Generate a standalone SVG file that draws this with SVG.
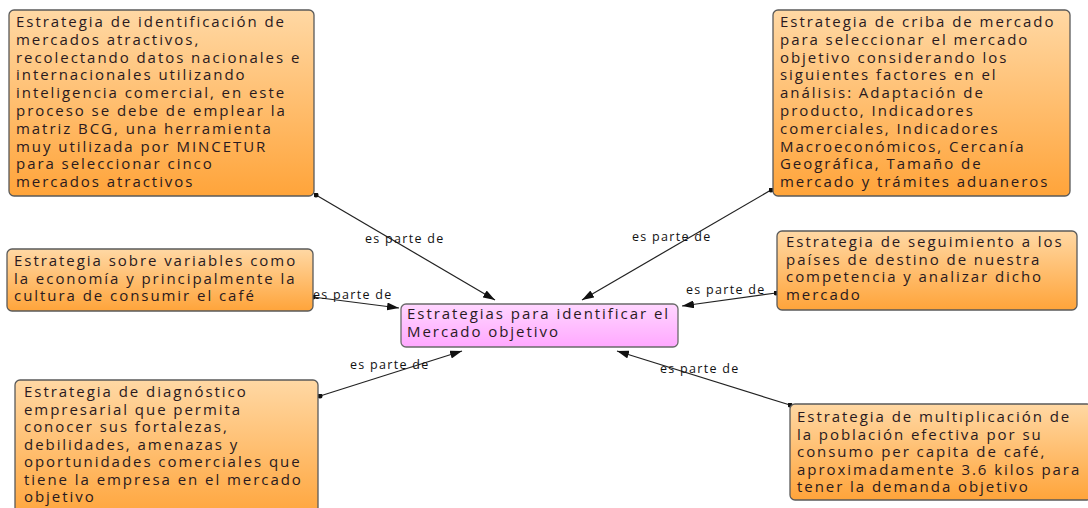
<svg xmlns="http://www.w3.org/2000/svg" width="1088" height="508" viewBox="0 0 1088 508">
  <defs>
    <linearGradient id="gOrange" x1="0" y1="0" x2="0" y2="1">
      <stop offset="0" stop-color="#ffd8a4"/>
      <stop offset="1" stop-color="#ffa43a"/>
    </linearGradient>
    <linearGradient id="gPink" x1="0" y1="0" x2="0" y2="1">
      <stop offset="0" stop-color="#ffd6ff"/>
      <stop offset="1" stop-color="#ffa8ff"/>
    </linearGradient>
    <marker id="arrow" viewBox="0 0 12 8" refX="12" refY="4" markerWidth="12" markerHeight="8" markerUnits="userSpaceOnUse" orient="auto">
      <path d="M0,0 L12,4 L0,8 Z" fill="#111"/>
    </marker>
    <marker id="dot" viewBox="0 0 6 6" refX="3" refY="3" markerWidth="5" markerHeight="5" markerUnits="userSpaceOnUse">
      <circle cx="3" cy="3" r="3" fill="#111"/>
    </marker>
  </defs>
  <style>
    .box { fill: url(#gOrange); stroke: #5a5a5a; stroke-width: 1.3; }
    .main { fill: url(#gPink); stroke: #6a6a6a; stroke-width: 1.3; }
    .t { font-family: "Open Sans", "Noto Sans", sans-serif; font-size: 15px; fill: #2a1a1e; letter-spacing: 1.95px; }
    .lbl { font-family: "Open Sans", "Noto Sans", sans-serif; font-size: 12.5px; fill: #111; letter-spacing: 1.3px; }
    .edge { stroke: #222; stroke-width: 1.2; fill: none; marker-start: url(#dot); marker-end: url(#arrow); }
  </style>

  <rect width="1088" height="508" fill="#ffffff"/>

  <g id="connectors">
    <line class="edge" x1="316" y1="195" x2="495" y2="300"/>
    <line class="edge" x1="771" y1="190" x2="582" y2="300"/>
    <line class="edge" x1="313" y1="297" x2="399" y2="308"/>
    <line class="edge" x1="776" y1="293" x2="682" y2="306"/>
    <line class="edge" x1="320" y1="396" x2="462" y2="351"/>
    <line class="edge" x1="790" y1="405" x2="617" y2="351"/>
    <text class="lbl" x="365" y="243">es parte de</text>
    <text class="lbl" x="632" y="241">es parte de</text>
    <text class="lbl" x="313" y="299">es parte de</text>
    <text class="lbl" x="686" y="294">es parte de</text>
    <text class="lbl" x="350" y="369">es parte de</text>
    <text class="lbl" x="660" y="373">es parte de</text>
  </g>

  <g id="node-identificacion">
    <rect class="box" x="9" y="10" width="305" height="186" rx="5"/>
    <text class="t" x="16" y="27">
      <tspan x="16">Estrategia de identificación de</tspan>
      <tspan x="16" dy="17.8">mercados atractivos,</tspan>
      <tspan x="16" dy="17.8">recolectando datos nacionales e</tspan>
      <tspan x="16" dy="17.8">internacionales utilizando</tspan>
      <tspan x="16" dy="17.8">inteligencia comercial, en este</tspan>
      <tspan x="16" dy="17.8">proceso se debe de emplear la</tspan>
      <tspan x="16" dy="17.8">matriz BCG, una herramienta</tspan>
      <tspan x="16" dy="17.8">muy utilizada por MINCETUR</tspan>
      <tspan x="16" dy="17.8">para seleccionar cinco</tspan>
      <tspan x="16" dy="17.8">mercados atractivos</tspan>
    </text>
  </g>

  <g id="node-criba">
    <rect class="box" x="773" y="10" width="297" height="186" rx="5"/>
    <text class="t" x="780" y="27">
      <tspan x="780">Estrategia de criba de mercado</tspan>
      <tspan x="780" dy="17.8">para seleccionar el mercado</tspan>
      <tspan x="780" dy="17.8">objetivo considerando los</tspan>
      <tspan x="780" dy="17.8">siguientes factores en el</tspan>
      <tspan x="780" dy="17.8">análisis: Adaptación de</tspan>
      <tspan x="780" dy="17.8">producto, Indicadores</tspan>
      <tspan x="780" dy="17.8">comerciales, Indicadores</tspan>
      <tspan x="780" dy="17.8">Macroeconómicos, Cercanía</tspan>
      <tspan x="780" dy="17.8">Geográfica, Tamaño de</tspan>
      <tspan x="780" dy="17.8">mercado y trámites aduaneros</tspan>
    </text>
  </g>

  <g id="node-variables">
    <rect class="box" x="7" y="249" width="306" height="62" rx="5"/>
    <text class="t" x="14" y="266">
      <tspan x="14">Estrategia sobre variables como</tspan>
      <tspan x="14" dy="17.7">la economía y principalmente la</tspan>
      <tspan x="14" dy="17.7">cultura de consumir el café</tspan>
    </text>
  </g>

  <g id="node-central">
    <rect class="main" x="401" y="304" width="277" height="43" rx="5"/>
    <text class="t" x="407" y="319">
      <tspan x="407">Estrategias para identificar el</tspan>
      <tspan x="407" dy="17.5">Mercado objetivo</tspan>
    </text>
  </g>

  <g id="node-seguimiento">
    <rect class="box" x="777" y="231" width="300" height="79" rx="5"/>
    <text class="t" x="786" y="247">
      <tspan x="786">Estrategia de seguimiento a los</tspan>
      <tspan x="786" dy="17.7">países de destino de nuestra</tspan>
      <tspan x="786" dy="17.7">competencia y analizar dicho</tspan>
      <tspan x="786" dy="17.7">mercado</tspan>
    </text>
  </g>

  <g id="node-diagnostico">
    <rect class="box" x="15" y="380" width="303" height="140" rx="5"/>
    <text class="t" x="24" y="397">
      <tspan x="24">Estrategia de diagnóstico</tspan>
      <tspan x="24" dy="17.5">empresarial que permita</tspan>
      <tspan x="24" dy="17.5">conocer sus fortalezas,</tspan>
      <tspan x="24" dy="17.5">debilidades, amenazas y</tspan>
      <tspan x="24" dy="17.5">oportunidades comerciales que</tspan>
      <tspan x="24" dy="17.5">tiene la empresa en el mercado</tspan>
      <tspan x="24" dy="17.5">objetivo</tspan>
    </text>
  </g>

  <g id="node-multiplicacion">
    <rect class="box" x="790" y="404" width="302" height="96" rx="5"/>
    <text class="t" x="797" y="422">
      <tspan x="797">Estrategia de multiplicación de</tspan>
      <tspan x="797" dy="17.5">la población efectiva por su</tspan>
      <tspan x="797" dy="17.5">consumo per capita de café,</tspan>
      <tspan x="797" dy="17.5">aproximadamente 3.6 kilos para</tspan>
      <tspan x="797" dy="17.5">tener la demanda objetivo</tspan>
    </text>
  </g>
</svg>
